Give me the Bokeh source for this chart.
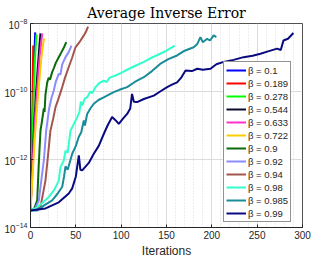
from bokeh.plotting import figure
from bokeh.models import FixedTicker, Legend, LegendItem
from bokeh.embed import file_html
from bokeh.resources import INLINE

# ---- data (x = iteration, e = log10 of error) ----
betas = ["0.1", "0.189", "0.278", "0.544", "0.633", "0.722", "0.9", "0.92", "0.94", "0.98", "0.985", "0.99"]
colors = ["#0000FF", "#FF0000", "#00FF00", "#0A0A2E", "#FF33CC", "#FFCC00",
          "#0B6B0B", "#8C8CFF", "#A3574C", "#33FFCC", "#1A8C99", "#0A0A80"]

x_b01 = [0, 1, 2, 3, 4, 5.2]
e_b01 = [-13.5, -12.4, -11.2, -10.1, -9.1, -8.26]

x_b0189 = [0, 1, 2, 2.5, 3]
e_b0189 = [-13.5, -12.3, -10.8, -9.6, -8.65]

x_b0278 = [0, 1, 2, 3, 4, 5, 6.6]
e_b0278 = [-13.5, -12.5, -11.5, -10.5, -9.7, -9.0, -8.32]

x_b0544 = [0, 2, 4, 6, 8, 10, 11]
e_b0544 = [-13.5, -12.2, -11.0, -10.1, -9.3, -8.6, -8.29]

x_b0633 = [0, 2, 4, 6, 8, 10, 12, 13]
e_b0633 = [-13.5, -12.4, -11.3, -10.4, -9.7, -9.0, -8.5, -8.29]

x_b0722 = [0, 2, 4, 6, 8, 10, 12, 14, 15]
e_b0722 = [-13.5, -12.6, -11.7, -10.9, -10.2, -9.6, -9.0, -8.6, -8.44]

x_b09 = [0, 4, 7.4, 9, 11, 12.5, 14.7, 15.5, 16.5, 18.4, 20, 21.5, 23.9, 26, 28, 31.2, 34, 37, 39.4]
e_b09 = [-13.5, -13.45, -13.2, -12.2, -11.15, -10.9, -10.5, -10.6, -10.1, -9.73, -9.6, -9.65, -9.43, -9.3, -9.15, -8.99, -8.85, -8.7, -8.55]

x_b092 = [0, 5, 9.2, 12, 14.7, 17.3, 20.2, 23, 25.7, 28, 31.2, 33, 35, 38.6, 42, 45.2]
e_b092 = [-13.5, -13.45, -13.2, -12.6, -12.03, -11.15, -10.56, -10.2, -9.97, -9.7, -9.48, -9.5, -9.2, -8.99, -8.85, -8.65]

x_b094 = [0, 6, 11, 16.5, 19.5, 22, 25, 27.6, 31, 35, 38, 42.2, 46, 49.6, 54, 58.8, 61, 63.5]
e_b094 = [-13.5, -13.47, -13.4, -12.62, -11.83, -11.15, -10.8, -10.46, -10.2, -9.87, -9.6, -9.28, -9.0, -8.7, -8.55, -8.35, -8.25, -8.09]

x_b098 = [0, 5.5, 12, 20.2, 26, 31.2, 33, 36.7, 38.6, 41, 44.1, 47, 51.5, 54, 55.5, 57, 60, 62.5, 66, 68,
          71.7, 76, 80.8, 84, 87, 93.7, 100, 106.6, 115, 125, 134, 143, 150, 159]
e_b098 = [-13.5, -13.44, -13.3, -13.1, -12.9, -12.62, -12.23, -12.03, -11.74, -11.8, -11.15, -11.0, -10.76, -10.6, -10.3, -10.41,
          -10.2, -10.17, -10.0, -10.05, -9.87, -9.75, -9.68, -9.72, -9.6, -9.53, -9.45, -9.36, -9.25, -9.13, -9.0, -8.89, -8.8, -8.65]

x_b0985 = [0, 7.4, 15, 23.9, 30, 35, 37, 38.6, 41, 46, 50, 53.2, 56, 58.8, 60, 62.5, 66, 69.8, 75, 80.8, 86, 91.8,
           98, 106.6, 115, 125, 134, 143, 152, 161.7, 170, 180, 184, 187.4, 190, 194.8, 198, 202, 205]
e_b0985 = [-13.5, -13.5, -13.35, -13.2, -13.0, -12.8, -12.5, -12.2, -12.3, -11.83, -11.6, -11.34, -11.2, -10.85, -11.0, -10.66,
           -10.5, -10.36, -10.25, -10.17, -10.1, -10.02, -9.95, -9.87, -9.72, -9.58, -9.4, -9.19, -9.05, -8.94, -8.8, -8.7,
           -8.6, -8.4, -8.55, -8.45, -8.5, -8.35, -8.4]

x_b099 = [0, 16.5, 31.2, 42.2, 46, 50, 53.3, 55, 57, 64.3, 69.8, 75.3, 80.8, 85, 90, 94, 97.4, 102, 106.6, 110, 112, 114,
          117.6, 125, 136, 143, 150.7, 156, 161.7, 166, 171, 178, 184, 190, 198.5, 205, 213, 224, 235, 245, 253.6, 262,
          272, 276, 279, 284, 290]
e_b099 = [-13.5, -13.44, -13.26, -13.0, -12.85, -12.5, -11.88, -12.3, -12.32, -12.1, -11.83, -11.6, -11.25, -11.0, -10.75,
          -10.85, -10.95, -10.8, -10.66, -10.5, -10.07, -10.3, -10.31, -10.22, -10.12, -10.0, -9.87, -9.8, -9.73, -9.6,
          -9.38, -9.4, -9.33, -9.36, -9.33, -9.2, -9.13, -9.07, -8.99, -8.95, -8.89, -8.82, -8.74, -8.78, -8.5, -8.45, -8.28]

series_x = [x_b01, x_b0189, x_b0278, x_b0544, x_b0633, x_b0722, x_b09, x_b092, x_b094, x_b098, x_b0985, x_b099]
series_e = [e_b01, e_b0189, e_b0278, e_b0544, e_b0633, e_b0722, e_b09, e_b092, e_b094, e_b098, e_b0985, e_b099]

x_ticks = [0, 50, 100, 150, 200, 250, 300]
y_ticks = [1e-14, 1e-12, 1e-10, 1e-8]

# ---- figure ----
p = figure(width=311, height=260, y_axis_type="log", x_range=(0, 300), y_range=(1e-14, 1e-8),
           output_backend="svg", toolbar_location=None, title="Average Inverse Error",
           min_border_left=30, min_border_right=9, min_border_top=23, min_border_bottom=33)

p.title.text_font = "DejaVu Serif"
p.title.text_font_size = "14px"
p.title.text_font_style = "normal"
p.title.align = "center"
p.title.offset = 0
p.title.standoff = 5
p.title.text_color = "#000000"

ax_col = "#262626"
p.outline_line_color = ax_col
p.outline_line_width = 0.8
p.outline_line_alpha = 1

for ax in (p.xaxis, p.yaxis):
    ax.axis_line_color = ax_col
    ax.major_tick_line_color = ax_col
    ax.minor_tick_line_color = ax_col
    ax.major_tick_in = 3
    ax.major_tick_out = 0
    ax.minor_tick_in = 0
    ax.minor_tick_out = 0
    ax.major_label_text_font = "Liberation Sans"
    ax.major_label_text_font_size = "10px"
    ax.major_label_text_color = ax_col
    ax.major_label_standoff = 3

p.xaxis.ticker = FixedTicker(ticks=x_ticks, minor_ticks=list(range(0, 301, 10)))
p.yaxis.ticker = FixedTicker(ticks=y_ticks, minor_ticks=[])
p.xaxis.axis_label = "Iterations"
p.xaxis.axis_label_text_font = "Liberation Sans"
p.xaxis.axis_label_text_font_size = "12px"
p.xaxis.axis_label_text_font_style = "normal"
p.xaxis.axis_label_text_color = ax_col
p.xaxis.axis_label_standoff = 2

p.xgrid.grid_line_color = "#DCDCDC"
p.ygrid.grid_line_color = "#DCDCDC"
p.xgrid.minor_grid_line_color = "#DADADA"
p.xgrid.minor_grid_line_dash = "1 2"
p.ygrid.minor_grid_line_color = None

items = []
for b, c, xs, es in zip(betas, colors, series_x, series_e):
    ys = [10.0 ** e for e in es]
    r = p.line(xs, ys, line_color=c, line_width=2)
    items.append(LegendItem(label="β = " + b, renderers=[r]))

legend = Legend(items=items, location=(193, 5))
legend.label_text_font = "Liberation Sans"
legend.label_text_font_size = "9.5px"
legend.label_text_color = ax_col
legend.label_height = 12
legend.glyph_height = 12
legend.glyph_width = 20
legend.label_standoff = 2
legend.spacing = 1
legend.padding = 2
legend.margin = 0
legend.border_line_color = ax_col
legend.border_line_width = 0.8
legend.background_fill_color = "white"
legend.background_fill_alpha = 1
p.add_layout(legend, "center")

open("out.html", "w").write(file_html(p, INLINE))
